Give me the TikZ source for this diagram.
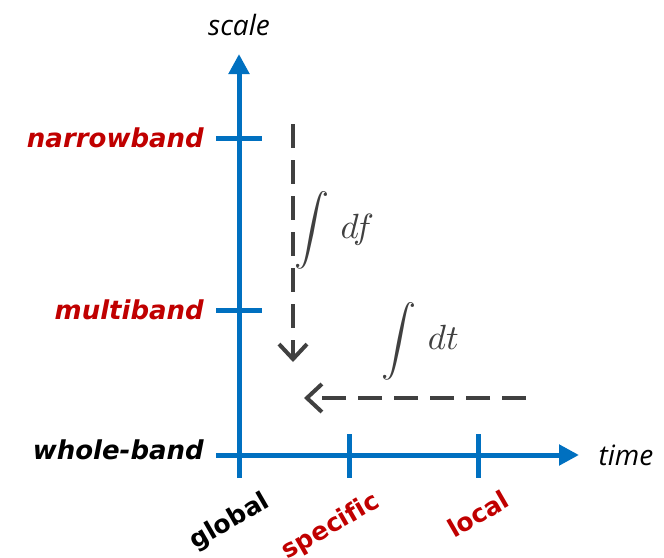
\documentclass[tikz,border=0pt]{standalone}
\usepackage{fontspec}
\setmainfont{DejaVu Sans}[Ligatures=NoCommon]
\newfontfamily\axisfont{Open Sans}
\usetikzlibrary{arrows.meta}
\definecolor{axblue}{HTML}{0070C0}
\definecolor{lblred}{HTML}{C00000}
\definecolor{dgray}{HTML}{404040}
\tikzset{
  axis/.style={draw=axblue, line width=5pt},
  tickl/.style={draw=axblue, line width=5pt},
  scalelbl/.style={font=\fontsize{26}{30}\selectfont\bfseries\itshape, anchor=east, inner sep=0pt},
  timelbl/.style={font=\fontsize{25}{30}\selectfont\bfseries, rotate=30, inner sep=0pt},
  axname/.style={font=\axisfont\fontsize{28}{33}\selectfont\itshape, inner sep=0pt},
  flow/.style={draw=dgray, line width=4pt, dash pattern=on 24pt off 12pt, -{Straight Barb[length=15pt,width=28pt,line width=4pt]}},
  mathlbl/.style={text=dgray, inner sep=0pt}
}
\begin{document}
\begin{tikzpicture}[x=1pt,y=-1pt]
\useasboundingbox (0,0) rectangle (664,557);
% axes
\coordinate (O) at (239,455);
\coordinate (ybot) at (239,478);
\coordinate (ytip) at (239,54);
\coordinate (xleft) at (216,455);
\coordinate (xtip) at (579,455);
\draw[axis,-{Triangle[length=20pt,width=20pt]}] (ybot) -- (ytip);
\draw[axis,-{Triangle[length=20pt,width=20pt]}] (xleft) -- (xtip);
% ticks
\coordinate (nb1) at (216,138); \coordinate (nb2) at (262,138);
\coordinate (mb1) at (216,310); \coordinate (mb2) at (262,310);
\coordinate (sp1) at (349,434); \coordinate (sp2) at (349,478);
\coordinate (lo1) at (478,434); \coordinate (lo2) at (478,478);
\draw[tickl] (nb1) -- (nb2);
\draw[tickl] (mb1) -- (mb2);
\draw[tickl] (sp1) -- (sp2);
\draw[tickl] (lo1) -- (lo2);
% axis names
\node[axname] (scale) at (239,25) {scale};
\node[axname] (time) at (626,455) {time};
% scale labels
\node[scalelbl, text=lblred] (narrow) at (204,138) {narrowband};
\node[scalelbl, text=lblred] (multi) at (204,310) {multiband};
\node[scalelbl, text=black] (whole) at (204,450) {whole-band};
% time labels
\node[timelbl, text=black] (global) at (230,522) {global};
\node[timelbl, text=lblred] (specific) at (331,527) {specific};
\node[timelbl, text=lblred] (local) at (478,514) {local};
% flow arrows
\coordinate (fs) at (293,124);
\coordinate (fe) at (293,362);
\coordinate (ts) at (526,398);
\coordinate (te) at (304,398);
\draw[flow] (fs) -- (fe);
\draw[flow] (ts) -- (te);
\node[mathlbl] (df) at (334,230) {\scalebox{3.5}{$\displaystyle\int\, df$}};
\node[mathlbl] (dt) at (420,341) {\scalebox{3.5}{$\displaystyle\int\, dt$}};
\end{tikzpicture}
\end{document}
